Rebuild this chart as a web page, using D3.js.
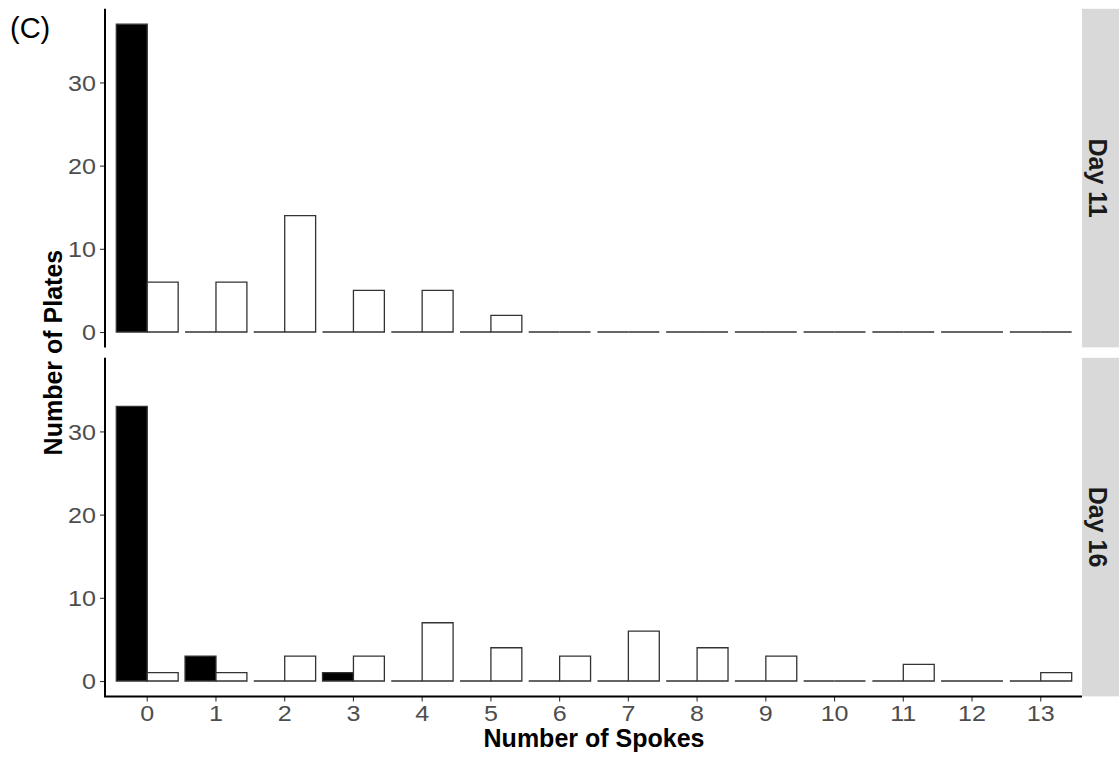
<!DOCTYPE html>
<html>
<head>
<meta charset="utf-8">
<script src="https://cdn.jsdelivr.net/npm/d3@7"></script>
<style>
  body { margin: 0; background: #fff; }
  svg text { font-family: "Liberation Sans", Arial, sans-serif; }
</style>
</head>
<body>
<div id="chart"></div>
<script>

// number of spokes (x categories)
const spokes = [0, 1, 2, 3, 4, 5, 6, 7, 8, 9, 10, 11, 12, 13];
const panels = ['Day 11', 'Day 16'];
const yTicks = [0, 10, 20, 30];

// bar heights, black bar = left, white bar = right
const day11Black = [37, 0, 0, 0, 0, 0, 0, 0, 0, 0, 0, 0, 0, 0];
const day11White = [6, 6, 14, 5, 5, 2, 0, 0, 0, 0, 0, 0, 0, 0];
const day16Black = [33, 3, 0, 1, 0, 0, 0, 0, 0, 0, 0, 0, 0, 0];
const day16White = [1, 1, 3, 3, 7, 4, 3, 6, 4, 3, 0, 2, 0, 1];

const series = ['black', 'white'];

const config = {
    width: 1120,
    height: 758,
    left: 106,
    right: 1082,
    stripWidth: 37,
    panelTops: [8.8, 357.8],
    panelHeight: 338.6,
    tickFont: "22px",
    tickStretch: 1.14,   // source image is a bit wider than tall
    titleFont: "25px"
};

// tidy up into one row per bar
const panelData = [
    {panel: panels[0], black: day11Black, white: day11White},
    {panel: panels[1], black: day16Black, white: day16White}
];

const svg = d3.select("#chart").append("svg")
    .attr("width", config.width)
    .attr("height", config.height);

// discrete x scale, ggplot-like 0.6 unit expansion each side
const x = d3.scaleBand()
    .domain(spokes)
    .range([config.left, config.right])
    .paddingInner(0)
    .paddingOuter(0.1);

const step = x.step();
const xInner = d3.scaleBand()
    .domain(series)
    .range([0, step * 0.9]);

const maxVal = d3.max([...day11Black, ...day11White, ...day16Black, ...day16White]);
const pad = maxVal * 0.05;

panelData.forEach((pd, pi) => {
    let top = config.panelTops[pi];
    let bottom = top + config.panelHeight;

    let y = d3.scaleLinear()
        .domain([-pad, maxVal + pad])
        .range([bottom, top]);

    let g = svg.append("g").attr("class", "panel");

    let bars = [];
    spokes.forEach((s, i) => {
        series.forEach(k => {
            bars.push({spoke: s, key: k, value: pd[k][i]});
        });
    });

    // bars as paths so zero counts still draw a flat line
    g.selectAll(".bar")
        .data(bars)
        .enter().append("path")
        .attr("class", "bar")
        .attr("d", d => {
            let x0 = x(d.spoke) + step * 0.05 + xInner(d.key);
            let x1 = x0 + xInner.bandwidth();
            let y0 = y(0), y1 = y(d.value);
            return `M${x0},${y0}V${y1}H${x1}V${y0}Z`;
        })
        .attr("fill", d => d.key === 'black' ? "#000" : "#fff")
        .attr("stroke", "#333")
        .attr("stroke-width", 1.3);

    // y axis
    let yAxis = g.append("g")
        .attr("transform", `translate(${config.left - 1},0)`)
        .call(d3.axisLeft(y).tickValues(yTicks).tickSize(5).tickPadding(3));
    yAxis.select(".domain").remove();
    yAxis.selectAll(".tick line").attr("stroke", "#333").attr("stroke-width", 1.1);
    yAxis.selectAll(".tick text")
        .attr("fill", "#4D4D4D")
        .style("font-size", config.tickFont)
        .attr("dy", "0.36em")
        .attr("transform", `scale(${config.tickStretch},1)`);
    g.append("line")
        .attr("x1", config.left - 1).attr("x2", config.left - 1)
        .attr("y1", top).attr("y2", bottom)
        .attr("stroke", "#000").attr("stroke-width", 2);

    // strip on the right
    g.append("rect")
        .attr("x", config.right)
        .attr("y", top)
        .attr("width", config.stripWidth)
        .attr("height", config.panelHeight)
        .attr("fill", "#D9D9D9");
    g.append("text")
        .attr("transform", `translate(${config.right + 7},${(top + bottom) / 2}) rotate(90)`)
        .attr("text-anchor", "middle")
        .attr("fill", "#1A1A1A")
        .style("font-size", config.titleFont)
        .style("font-weight", "bold")
        .text(pd.panel);

    // x axis only below the last panel
    if (pi === panelData.length - 1) {
        let xAxis = g.append("g")
            .attr("transform", `translate(0,${bottom})`)
            .call(d3.axisBottom(x).tickSize(5).tickPadding(3));
        xAxis.select(".domain").remove();
        xAxis.selectAll(".tick line").attr("stroke", "#333").attr("stroke-width", 1.1);
        xAxis.selectAll(".tick text")
            .attr("fill", "#4D4D4D")
            .style("font-size", config.tickFont)
            .attr("dy", "0.75em")
            .attr("transform", `scale(${config.tickStretch},1)`);
        g.append("line")
            .attr("x1", config.left - 2).attr("x2", config.right)
            .attr("y1", bottom).attr("y2", bottom)
            .attr("stroke", "#000").attr("stroke-width", 2);
    }
});

// axis titles
const plotMid = (config.panelTops[0] + config.panelTops[1] + config.panelHeight) / 2;
svg.append("text")
    .attr("x", (config.left + config.right) / 2)
    .attr("y", 747)
    .attr("text-anchor", "middle")
    .attr("fill", "#000")
    .style("font-size", config.titleFont)
    .style("font-weight", "bold")
    .text("Number of Spokes");

svg.append("text")
    .attr("transform", `translate(62,${plotMid}) rotate(-90)`)
    .attr("text-anchor", "middle")
    .attr("fill", "#000")
    .style("font-size", config.titleFont)
    .style("font-weight", "bold")
    .text("Number of Plates");

// panel tag
svg.append("text")
    .attr("x", 10)
    .attr("y", 38)
    .attr("fill", "#000")
    .style("font-size", "29px")
    .text("(C)");

</script>
</body>
</html>
